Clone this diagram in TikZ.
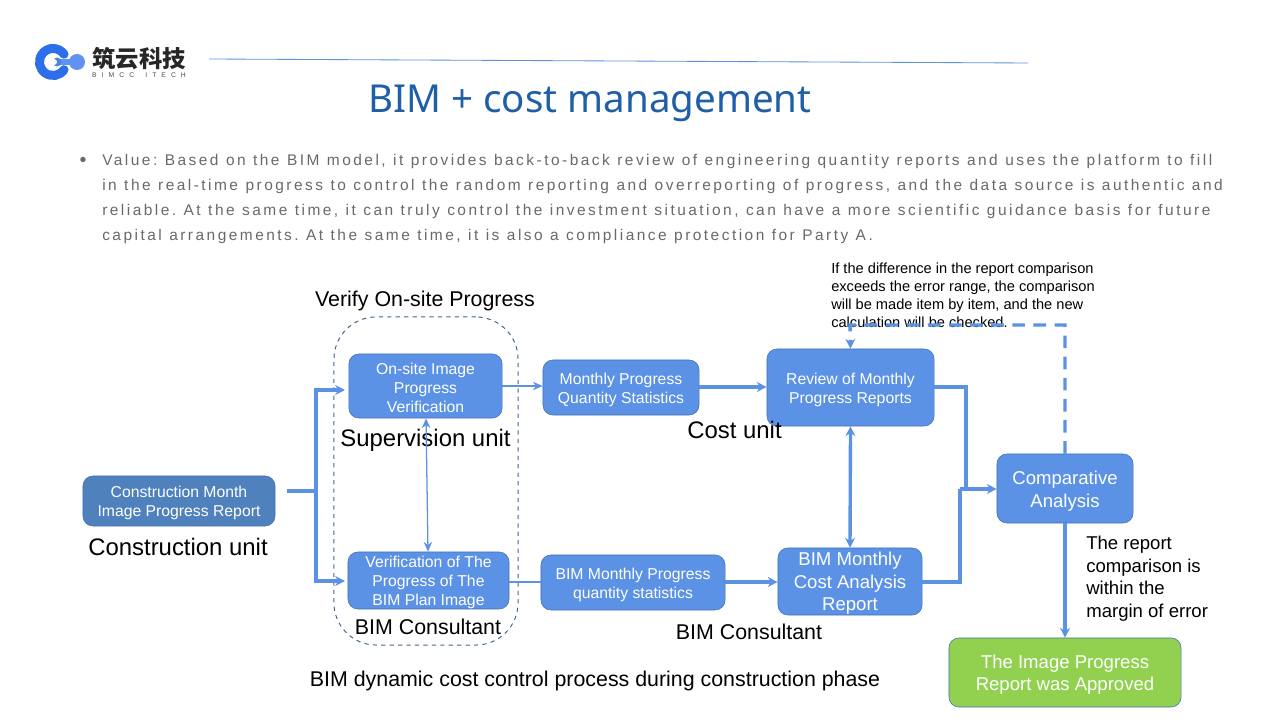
\documentclass[tikz,border=0pt]{standalone}
\usepackage{fontspec}
\setmainfont{Liberation Sans}
\newfontfamily\titlefont{Noto Sans}
\newfontfamily\cjkfont{Noto Sans CJK SC}
\newfontfamily\spacedfont[LetterSpace=16]{Liberation Sans}
\newfontfamily\logofont[LetterSpace=75]{Liberation Sans}
\usetikzlibrary{arrows.meta, positioning}
\definecolor{boxblue}{RGB}{91,146,229}
\definecolor{boxedge}{RGB}{65,113,178}
\definecolor{frameblue}{RGB}{68,100,143}
\definecolor{darkblue}{RGB}{79,129,189}
\definecolor{linkblue}{RGB}{92,146,226}
\definecolor{okgreen}{RGB}{146,208,80}
\definecolor{titleblue}{RGB}{31,95,168}
\definecolor{logoblue}{RGB}{45,110,235}
\definecolor{bodygray}{RGB}{105,105,105}
\newcommand{\toppad}{\rule{0pt}{11pt}}
\newcommand{\bigpad}{\rule{0pt}{13pt}}
\newcommand{\valuefont}{\spacedfont\fontsize{11}{17.72}\selectfont\frenchspacing\setlength{\spaceskip}{5.3pt}\relax}
\tikzset{
  flow/.style={rectangle, rounded corners=7pt, draw=boxedge, fill=boxblue, text=white,
    font=\fontsize{11.2}{13.5}\selectfont, align=center, inner sep=0pt},
  bigflow/.style={flow, font=\fontsize{13.2}{16.5}\selectfont},
  arrow/.style={-{Stealth[length=7pt,width=7pt]}, line width=2.4pt, color=linkblue},
  twoway/.style={{Stealth[length=7pt,width=7pt]}-{Stealth[length=7pt,width=7pt]}, line width=2.4pt, color=linkblue},
  link/.style={line width=2.4pt, color=linkblue},
  thinarrow/.style={-{Stealth[length=7pt,width=6pt]}, line width=0.9pt, color=linkblue},
  thintwoway/.style={{Stealth[length=7pt,width=6pt]}-{Stealth[length=7pt,width=6pt]}, line width=0.9pt, color=linkblue},
  unitlabel/.style={font=\fontsize{17}{20}\selectfont, text=black, inner sep=0pt},
  smalllabel/.style={font=\fontsize{15.2}{18}\selectfont, text=black, inner sep=0pt},
}

\begin{document}
\begin{tikzpicture}[x=0.025cm, y=-0.025cm]
  \useasboundingbox (0,0) rectangle (1280,720);
  % logo
  \draw[logoblue, line width=6.4pt, line cap=round] (53,62) ++(35:13.5) arc (35:325:13.5);
  \draw[logoblue!75!white, line width=4.2pt, line cap=round] (60,62) -- (78,62);
  \fill[logoblue!75!white] (77,62) circle (8);
  \fill[logoblue!85!white] (57,62) circle (4.5);
  \fill[white] (54,62) circle (3);
  \node[inner sep=0pt, text=black!85] (logotext) at (139,59) {\cjkfont\bfseries\fontsize{16.6}{18}\selectfont 筑云科技};
  \node[inner sep=0pt, text=black!70] (logosub) at (139,75) {\logofont\fontsize{4.8}{6}\selectfont BIMCC\hspace{3pt} ITECH};
  \coordinate (ruleL) at (209,59);
  \coordinate (ruleR) at (1028,63);
  \draw[linkblue, line width=0.6pt] (ruleL) -- (ruleR);
  \node[inner sep=0pt, text=titleblue] (title) at (590,103) {\titlefont\fontsize{27.4}{32}\selectfont BIM + cost management};
  % value text
  \node[inner sep=0pt, text=bodygray] (bullet) at (83,162) {\fontsize{14}{15}\selectfont\textbullet};
  \node[inner sep=0pt, anchor=north west, align=left, text=bodygray, font=\valuefont] (value) at (102,154)
    {Value: Based on the BIM model, it provides back-to-back review of engineering quantity reports and uses the platform to fill\\
     in the real-time progress to control the random reporting and overreporting of progress, and the data source is authentic and\\
     reliable. At the same time, it can truly control the investment situation, can have a more scientific guidance basis for future\\
     capital arrangements. At the same time, it is also a compliance protection for Party A.};
  % boxes
  \node[flow, fill=darkblue, minimum width=4.8cm, minimum height=1.25cm] (report) at (179,501) {\toppad Construction Month\\Image Progress Report};
  \node[flow, minimum width=3.83cm, minimum height=1.6cm] (onsite) at (425.5,386) {\toppad On-site Image\\Progress\\Verification};
  \node[flow, minimum width=3.9cm, minimum height=1.375cm] (qty) at (621,387.5) {\toppad Monthly Progress\\Quantity Statistics};
  \node[flow, minimum width=4.175cm, minimum height=1.925cm] (review) at (850.5,387.5) {\toppad Review of Monthly\\Progress Reports};
  \node[bigflow, minimum width=3.4cm, minimum height=1.725cm] (compare) at (1065,488.5) {\bigpad Comparative\\Analysis};
  \node[flow, minimum width=4.025cm, minimum height=1.425cm] (planimg) at (428.5,580.5) {\toppad Verification of The\\Progress of The\\BIM Plan Image};
  \node[flow, minimum width=4.6cm, minimum height=1.375cm] (bimqty) at (633,582.5) {\toppad BIM Monthly Progress\\quantity statistics};
  \node[bigflow, font=\fontsize{13.2}{16}\selectfont, minimum width=3.6cm, minimum height=1.675cm] (cost) at (850,581.5) {\rule{0pt}{12.4pt}BIM Monthly\\Cost Analysis\\Report};
  \node[bigflow, font=\fontsize{13.2}{16}\selectfont, fill=okgreen, minimum width=5.8cm, minimum height=1.725cm] (approved) at (1065,672.5) {\bigpad The Image Progress\\Report was Approved};
  % dashed frame
  \node[rectangle, rounded corners=30pt, draw=frameblue, dashed, line width=0.7pt,
    minimum width=4.6cm, minimum height=8.2cm] (verifybox) at (426,481) {};
  % labels
  \node[smalllabel] (verifylabel) at (425,301) {Verify On-site Progress};
  \node[unitlabel] (constructionunit) at (178,547) {Construction unit};
  \node[unitlabel] (supervisionunit) at (425.5,440) {Supervision unit};
  \node[unitlabel] (costunit) at (734.5,430) {Cost unit};
  \node[smalllabel] (consultantA) at (428,627) {BIM Consultant};
  \node[smalllabel] (consultantB) at (749,632) {BIM Consultant};
  \node[smalllabel] (caption) at (595,681) {BIM dynamic cost control process during construction phase};
  \node[inner sep=0pt, anchor=north west, align=left, font=\fontsize{10.4}{12.8}\selectfont] (diffnote) at (831,263)
    {If the difference in the report comparison\\exceeds the error range, the comparison\\will be made item by item, and the new\\calculation will be checked.};
  \node[inner sep=0pt, anchor=north west, align=left, font=\fontsize{13.2}{16}\selectfont] (marginnote) at (1086,536)
    {The report\\comparison is\\within the\\margin of error};
  % connectors
  \coordinate (start) at (287,491);
  \coordinate (fork) at (316,491);
  \coordinate (upin) at (345,390);
  \coordinate (downin) at (345,581);
  \draw[link] (start) -- (fork);
  \draw[arrow] (fork) |- (upin);
  \draw[arrow] (fork) |- (downin);
  \draw[thinarrow] (onsite.east |- 0,386) -- (qty.west |- 0,386);
  \draw[arrow] (qty.east |- 0,387) -- (review.west |- 0,387);
  \draw[thintwoway] (onsite.south -| 426,0) -- (planimg.north -| 428,0);
  \draw[link, line width=1pt] (planimg.east |- 0,582) -- (bimqty.west |- 0,582);
  \draw[arrow] (bimqty.east |- 0,582) -- (cost.west |- 0,582);
  \draw[twoway] (review.south) -- (cost.north);
  \coordinate (joinA) at (966,387);
  \coordinate (joinB) at (966,489);
  \coordinate (joinC) at (960,582);
  \coordinate (joinD) at (960,489);
  \draw[link] (review.east |- joinA) -- (joinA) -- (joinB);
  \draw[link] (cost.east |- joinC) -- (joinC) -- (joinD);
  \draw[arrow] (joinD) -- (compare.west |- joinD);
  \draw[arrow] (compare.south) -- (approved.north);
  \coordinate (backA) at (1065,325);
  \coordinate (backB) at (850,325);
  \draw[arrow, dash pattern=on 9pt off 6pt] (compare.north) -- (backA) -- (backB) -- (review.north);
\end{tikzpicture}
\end{document}
